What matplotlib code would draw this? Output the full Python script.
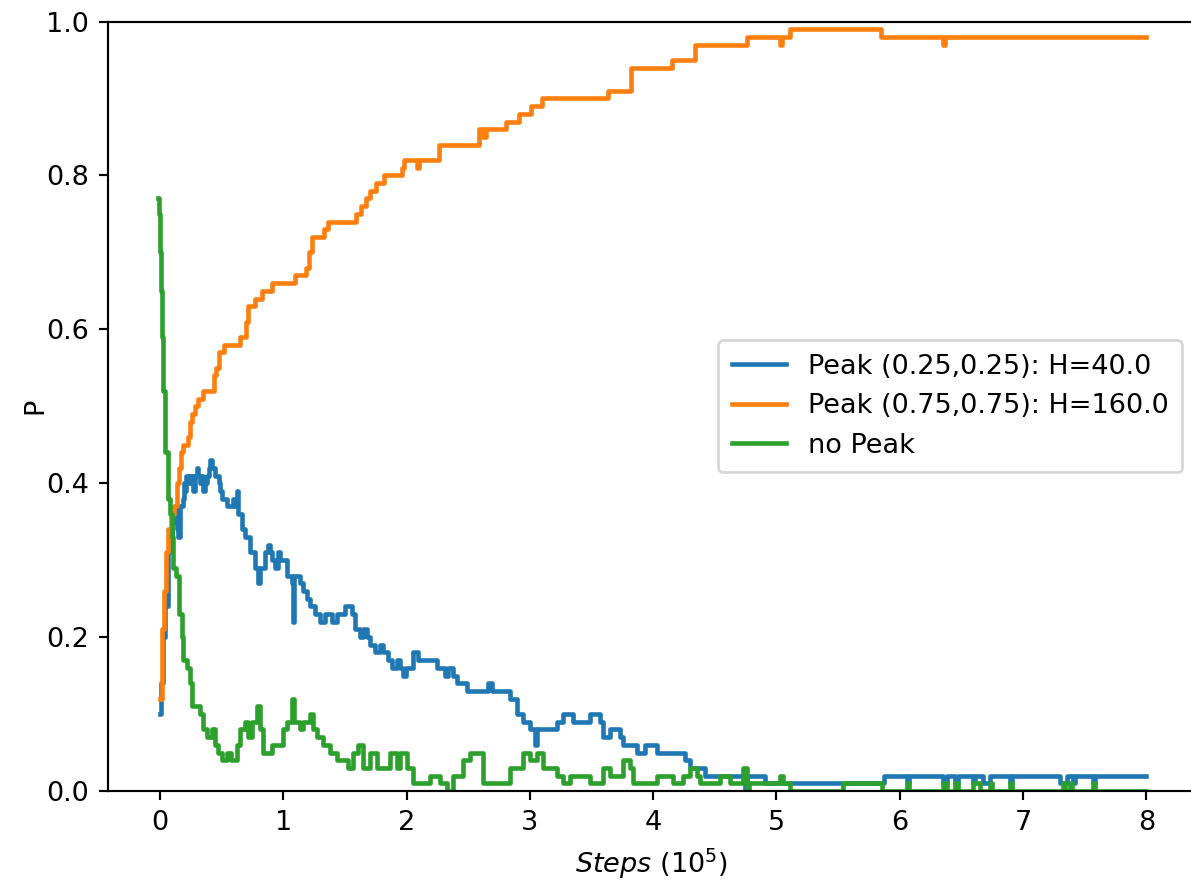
import matplotlib
matplotlib.use("Agg")
import matplotlib.pyplot as plt

# ---- data (x in units of 1e5 steps) ----
orange_x = [0.000, 0.016, 0.032, 0.049, 0.065, 0.089, 0.114, 0.138, 0.154, 0.170, 0.187,
            0.227, 0.243, 0.260, 0.284, 0.308, 0.349, 0.438, 0.454, 0.479, 0.519, 0.649,
            0.697, 0.714, 0.770, 0.827, 0.908, 1.095, 1.184, 1.208, 1.233, 1.330, 1.363,
            1.590, 1.630, 1.671, 1.703, 1.752, 1.817, 1.963, 1.979, 2.084, 2.101, 2.263,
            2.587, 2.620, 2.644, 2.806, 2.912, 3.009, 3.098, 3.633, 3.820, 4.152, 4.339,
            4.761, 5.028, 5.045, 5.109, 5.847, 6.350, 6.367, 8.000]
orange_y = [0.12, 0.21, 0.26, 0.31, 0.34, 0.36, 0.37, 0.40, 0.42, 0.44, 0.45,
            0.46, 0.48, 0.49, 0.50, 0.51, 0.52, 0.54, 0.55, 0.57, 0.58, 0.59,
            0.61, 0.63, 0.64, 0.65, 0.66, 0.67, 0.68, 0.70, 0.72, 0.73, 0.74,
            0.75, 0.76, 0.77, 0.78, 0.79, 0.80, 0.81, 0.82, 0.81, 0.82, 0.84,
            0.86, 0.85, 0.86, 0.87, 0.88, 0.89, 0.90, 0.91, 0.94, 0.95, 0.97,
            0.98, 0.97, 0.98, 0.99, 0.98, 0.97, 0.98, 0.98]

blue_x = [0.000, 0.008, 0.024, 0.041, 0.065, 0.097, 0.122, 0.138, 0.146, 0.162, 0.187,
          0.195, 0.203, 0.215, 0.227, 0.235, 0.250, 0.260, 0.268, 0.285, 0.300, 0.310,
          0.324, 0.335, 0.349, 0.365, 0.381, 0.395, 0.406, 0.418, 0.430, 0.445, 0.462,
          0.475, 0.487, 0.505, 0.527, 0.545, 0.568, 0.592, 0.610, 0.624, 0.633, 0.665,
          0.689, 0.730, 0.770, 0.795, 0.810, 0.827, 0.852, 0.876, 0.890, 0.908, 0.933,
          0.957, 0.970, 0.989, 1.030, 1.071, 1.079, 1.087, 1.135, 1.160, 1.192, 1.217,
          1.257, 1.298, 1.338, 1.395, 1.436, 1.500, 1.557, 1.581, 1.622, 1.646, 1.679,
          1.703, 1.744, 1.784, 1.809, 1.849, 1.882, 1.922, 1.946, 1.971, 1.995, 2.052,
          2.092, 2.247, 2.311, 2.336, 2.376, 2.409, 2.490, 2.660, 2.693, 2.839, 2.895,
          2.944, 3.001, 3.041, 3.058, 3.220, 3.268, 3.350, 3.487, 3.569, 3.593, 3.650,
          3.731, 3.755, 3.869, 3.933, 4.031, 4.258, 4.298, 4.420, 4.745, 4.761, 4.907,
          5.872, 6.058, 6.075, 6.350, 6.383, 6.448, 6.472, 6.594, 6.610, 6.675, 6.732,
          6.894, 6.910, 7.299, 7.356, 7.405, 7.421, 7.567, 7.583, 8.000]
blue_y = [0.10, 0.14, 0.20, 0.24, 0.31, 0.35, 0.37, 0.34, 0.33, 0.37, 0.38,
          0.40, 0.39, 0.41, 0.40, 0.41, 0.40, 0.41, 0.39, 0.41, 0.42, 0.41,
          0.40, 0.41, 0.39, 0.40, 0.41, 0.42, 0.43, 0.42, 0.42, 0.41, 0.41,
          0.40, 0.39, 0.38, 0.38, 0.37, 0.37, 0.38, 0.37, 0.39, 0.36, 0.34,
          0.33, 0.31, 0.29, 0.27, 0.29, 0.29, 0.31, 0.32, 0.31, 0.30, 0.29,
          0.31, 0.30, 0.30, 0.28, 0.27, 0.22, 0.28, 0.27, 0.26, 0.25, 0.24,
          0.23, 0.22, 0.23, 0.22, 0.23, 0.24, 0.23, 0.21, 0.20, 0.21, 0.20,
          0.19, 0.18, 0.19, 0.18, 0.17, 0.16, 0.17, 0.16, 0.15, 0.16, 0.18,
          0.17, 0.16, 0.15, 0.16, 0.15, 0.14, 0.13, 0.14, 0.13, 0.12, 0.10,
          0.09, 0.08, 0.06, 0.08, 0.09, 0.10, 0.09, 0.10, 0.09, 0.07, 0.08,
          0.07, 0.06, 0.05, 0.06, 0.05, 0.04, 0.03, 0.02, 0.00, 0.02, 0.01,
          0.02, 0.01, 0.02, 0.01, 0.02, 0.01, 0.02, 0.01, 0.02, 0.01, 0.02,
          0.01, 0.02, 0.01, 0.02, 0.01, 0.02, 0.01, 0.02, 0.02]

green_x = [-0.016, -0.008, 0.000, 0.008, 0.016, 0.024, 0.041, 0.065, 0.081, 0.097, 0.105,
           0.130, 0.154, 0.178, 0.187, 0.219, 0.243, 0.260, 0.324, 0.349, 0.381, 0.422,
           0.446, 0.470, 0.503, 0.543, 0.576, 0.624, 0.649, 0.689, 0.714, 0.746, 0.787,
           0.811, 0.835, 0.868, 0.908, 0.949, 0.998, 1.030, 1.071, 1.087, 1.135, 1.160,
           1.217, 1.241, 1.273, 1.322, 1.379, 1.436, 1.484, 1.525, 1.565, 1.606, 1.646,
           1.703, 1.760, 1.865, 1.922, 1.946, 2.003, 2.052, 2.190, 2.271, 2.328, 2.376,
           2.457, 2.514, 2.620, 2.839, 2.895, 2.944, 3.001, 3.058, 3.106, 3.220, 3.268,
           3.325, 3.487, 3.593, 3.650, 3.755, 3.812, 3.836, 4.031, 4.161, 4.242, 4.298,
           4.355, 4.380, 4.542, 4.623, 4.728, 4.761, 4.777, 5.028, 5.053, 5.109, 5.539,
           5.856, 6.058, 6.075, 6.350, 6.383, 6.448, 6.472, 6.594, 6.650, 6.732, 6.750,
           6.894, 6.910, 7.320, 7.337, 7.380, 7.397, 7.567, 7.583, 8.000]
green_y = [0.77, 0.75, 0.70, 0.65, 0.59, 0.52, 0.44, 0.38, 0.36, 0.33, 0.29,
           0.28, 0.23, 0.20, 0.17, 0.16, 0.14, 0.11, 0.10, 0.08, 0.07, 0.08,
           0.06, 0.05, 0.04, 0.05, 0.04, 0.06, 0.08, 0.09, 0.07, 0.09, 0.11,
           0.08, 0.05, 0.05, 0.06, 0.06, 0.08, 0.09, 0.12, 0.09, 0.08, 0.09,
           0.10, 0.08, 0.07, 0.06, 0.05, 0.04, 0.04, 0.03, 0.05, 0.06, 0.03,
           0.05, 0.03, 0.05, 0.03, 0.05, 0.03, 0.01, 0.02, 0.01, 0.00, 0.02,
           0.04, 0.05, 0.01, 0.03, 0.03, 0.05, 0.04, 0.05, 0.03, 0.02, 0.01,
           0.02, 0.01, 0.03, 0.02, 0.04, 0.03, 0.01, 0.02, 0.01, 0.02, 0.03,
           0.02, 0.01, 0.02, 0.01, 0.03, 0.00, 0.01, 0.02, 0.01, 0.00, 0.01,
           0.00, 0.01, 0.00, 0.01, 0.00, 0.01, 0.00, 0.01, 0.00, 0.01, 0.00,
           0.01, 0.00, 0.01, 0.00, 0.01, 0.00, 0.01, 0.00, 0.00]

labels = ["Peak (0.25,0.25): H=40.0", "Peak (0.75,0.75): H=160.0", "no Peak"]
yticks = [0.0, 0.2, 0.4, 0.6, 0.8, 1.0]
xticks = [0, 1, 2, 3, 4, 5, 6, 7, 8]

DPI = 195
W, H = 1191, 882
fig = plt.figure(figsize=(W / DPI, H / DPI), dpi=DPI)
ax = fig.add_axes([108.2 / W, 91 / H, (1195.7 - 108.2) / W, 769.5 / H])

ax.plot(blue_x, blue_y, drawstyle="steps-post", color="#1f77b4", lw=1.7, label=labels[0])
ax.plot(orange_x, orange_y, drawstyle="steps-post", color="#ff7f0e", lw=1.7, label=labels[1])
ax.plot(green_x, green_y, drawstyle="steps-post", color="#2ca02c", lw=1.7, label=labels[2])

ax.set_xlim(-0.42, 8.4)
ax.set_ylim(0, 1)
ax.set_xticks(xticks)
ax.set_yticks(yticks)
ax.set_xlabel(r"$Steps$ ($10^5$)")
ax.set_ylabel("P")
ax.yaxis.set_label_coords((48 - 108.2) / (1195.7 - 108.2), 0.5)
ax.legend(loc="center right", borderpad=0.5)

fig.savefig("out.png", dpi=DPI)
